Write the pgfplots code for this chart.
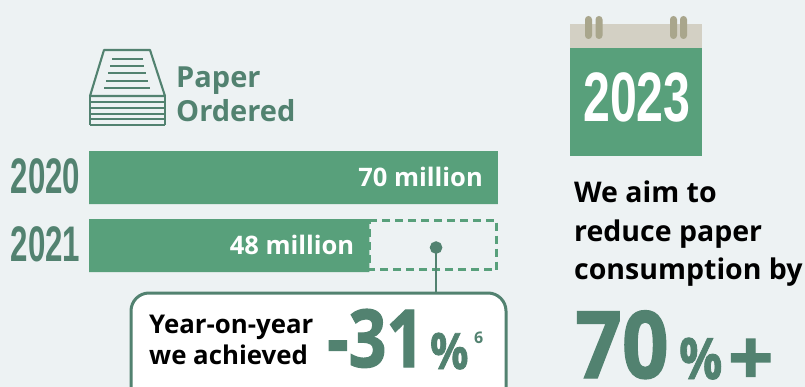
\documentclass[border=0pt]{standalone}
\usepackage{pgfplots}
\usepackage{graphicx}
\usepackage{fontspec}
\pgfplotsset{compat=1.18}
\setmainfont{Open Sans}[BoldFont={Open Sans Bold}]
\newfontfamily\numfont{Liberation Sans}[BoldFont={Liberation Sans Bold}]
\newfontfamily\heavyfont{Open Sans Bold}[FakeBold=1.6]
\definecolor{pagebg}{HTML}{EDF2F3}
\definecolor{barfill}{HTML}{58A07B}
\definecolor{deepgreen}{HTML}{528270}
\definecolor{calhead}{HTML}{D3D0C4}
\definecolor{calring}{HTML}{A9A68C}
% size in pt, then bold text
\newcommand{\fs}[1]{\fontsize{#1}{#1}\selectfont\bfseries}
% narrow poster-style numerals: size, horizontal factor, text
\newcommand{\cond}[3]{\scalebox{#2}[1]{\numfont\fontsize{#1}{#1}\selectfont\bfseries #3}}
% large statistic figures: size, horizontal factor, text
\newcommand{\stat}[3]{\scalebox{#2}[1]{\heavyfont\fontsize{#1}{#1}\selectfont #3}}
\begin{document}
\begin{tikzpicture}
\path[use as bounding box, clip] (0,0) rectangle (805pt,-387pt);
\fill[pagebg] (0,0) rectangle (805pt,-387pt);
\begin{axis}[
  at={(89pt,0pt)}, anchor=north west,
  scale only axis, width=409pt, height=387pt,
  xmin=0, xmax=70, ymin=2017.3897, ymax=2023.0809,
  y dir=reverse, clip=false,
  /pgf/number format/assume math mode=true,
  axis line style={draw=none}, major tick length=0pt,
  xtick=\empty, ytick={2020,2021},
  yticklabels={\cond{50}{0.625}{2020},\cond{50}{0.625}{2021}},
  y tick label style={text=deepgreen, inner sep=0pt, xshift=-8.5pt, yshift=1pt},
]
\addplot[xbar, bar width=53pt, draw=none, fill=barfill,
  point meta=x,
  nodes near coords={\pgfmathprintnumber{\pgfplotspointmeta} million},
  every node near coord/.style={anchor=east, xshift=-15pt, yshift=1pt, text=white, inner sep=0pt, font=\fs{25.5}}]
  coordinates {(70,2020) (48,2021)};
% the saved share of the 2020 volume, shown as an empty outline
\addplot[barfill, line width=3pt, dash pattern=on 8pt off 5pt]
  coordinates {(48,2020.625) (69.8,2020.625) (69.8,2021.36) (48,2021.36) (48,2020.625)};
% leader from the outline to the callout
\addplot[deepgreen, line width=2.5pt, mark=*, mark size=5pt, mark repeat=2,
  mark options={fill=deepgreen, draw=none}]
  coordinates {(59.4,2021.03) (59.4,2021.7)};
\end{axis}
\begin{scope}[x=1pt, y=-1pt, every node/.style={anchor=base west, inner sep=0pt}]
  % stack-of-paper icon
  \draw[deepgreen, line width=2.1pt, line join=round] (104,50) -- (150,50) -- (165,96) -- (90,96) -- cycle;
  \foreach \ya/\xa/\xb in {59.3/112/143, 66/110/144, 73.3/108/146, 80.7/106/148, 87.7/104/150}
    \draw[deepgreen, line width=2.1pt] (\xa,\ya) -- (\xb,\ya);
  \foreach \ya in {101.7,108,114,119.3,125}
    \draw[deepgreen, line width=2.1pt] (90,\ya) -- (165,\ya);
  \draw[deepgreen, line width=2.1pt] (90,96) -- (90,125) (165,96) -- (165,125);
  \node[text=deepgreen] at (176,88) {\fs{29}Paper};
  \node[text=deepgreen] at (176,122) {\fs{29}Ordered};
  % callout
  \draw[deepgreen, line width=3pt, fill=white, rounded corners=18pt] (131,293) rectangle (506,410);
  \node[text=black] at (149,333) {\fs{25.8}Year-on-year};
  \node[text=black] at (149,364) {\fs{25.8}we achieved};
  \node[text=deepgreen] at (327,367) {\stat{80}{0.83}{-31}};
  \node[text=deepgreen] at (430,369) {\stat{50}{0.85}{\%}};
  \node[text=deepgreen] at (474,343) {\fs{16}6};
  % calendar
  \fill[calhead] (570,24) rectangle (702,48);
  \fill[barfill] (570,48) rectangle (702,156);
  \foreach \xa in {585,595.5,670,680}
    \fill[calring, rounded corners=3.4pt] (\xa,16) rectangle ++(7,23);
  \node[text=white] at (583,122) {\cond{70}{0.69}{2023}};
  % target
  \node[text=black] at (574,203) {\fs{28.5}We aim to};
  \node[text=black] at (574,241) {\fs{28.5}reduce paper};
  \node[text=black] at (574,279) {\fs{28.5}consumption by};
  \node[text=deepgreen] at (575,378) {\stat{93}{0.88}{70}};
  \node[text=deepgreen] at (679,379) {\stat{57}{0.84}{\%}};
  \node[text=deepgreen] at (728,385) {\stat{77}{1.03}{+}};
\end{scope}
\end{tikzpicture}
\end{document}
